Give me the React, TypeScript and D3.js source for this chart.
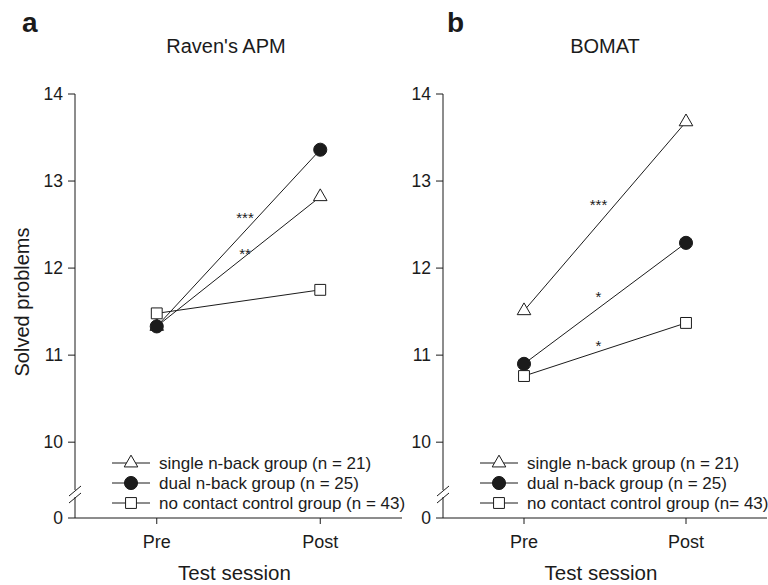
import * as d3 from "d3";

// sessions on the x axis
const sessions = ["Pre", "Post"];

// group values (mean solved problems)
const ravenSingle = [11.33, 12.82];
const ravenDual = [11.33, 13.36];
const ravenControl = [11.48, 11.75];

const bomatSingle = [11.51, 13.68];
const bomatDual = [10.9, 12.29];
const bomatControl = [10.76, 11.37];

const yTicks = [0, 10, 11, 12, 13, 14];

const legendA = [
  "single n-back group (n = 21)",
  "dual n-back group (n = 25)",
  "no contact control group (n = 43)",
];
const legendB = [
  "single n-back group (n = 21)",
  "dual n-back group (n = 25)",
  "no contact control group (n= 43)",
];

// significance marks: [label, session position, value]
const starsA: [string, number, number][] = [
  ["***", 0.54, 12.61],
  ["**", 0.54, 12.2],
];
const starsB: [string, number, number][] = [
  ["***", 0.46, 12.76],
  ["*", 0.46, 11.7],
  ["*", 0.46, 11.14],
];

const INK = "#1b1b1b";
const FONT = "'Liberation Sans', Arial, Helvetica, sans-serif";
const markerKinds = ["triangle", "circle", "square"];

const symbolFor = (kind: string) => {
  if (kind === "triangle") return d3.symbol(d3.symbolTriangle, 80)();
  if (kind === "circle") return d3.symbol(d3.symbolCircle, 135)();
  return d3.symbol(d3.symbolSquare, 118)();
};

const Marker = ({ kind, x, y }: { kind: string; x: number; y: number }) => (
  <path
    d={symbolFor(kind) || ""}
    transform={`translate(${x},${y})`}
    fill={kind === "circle" ? INK : "#fff"}
    stroke={INK}
    strokeWidth={1}
  />
);

type PanelProps = {
  left: number;
  right: number;
  letter: string;
  letterX: number;
  title: string;
  titleX: number;
  series: number[][];
  legend: string[];
  stars: [string, number, number][];
};

const Panel = ({ left, right, letter, letterX, title, titleX, series, legend, stars }: PanelProps) => {
  const x = d3.scaleLinear().domain([-0.5, 1.5]).range([left, right]);
  // broken axis: 0 sits just below the break
  const y = d3.scaleLinear().domain([0, 9.6, 14]).range([518, 477, 94]);
  const breakTop = 490;
  const breakBottom = 497;

  const line = d3
    .line<number>()
    .x((_, i) => x(i))
    .y((d) => y(d));

  const labelX = (x(0) + x(1)) / 2 - 4;

  return (
    <g fontFamily={FONT} fill={INK}>
      <text x={letterX} y={32} fontSize={28} fontWeight="bold">
        {letter}
      </text>
      <text x={titleX} y={53} fontSize={20} textAnchor="middle">
        {title}
      </text>

      {/* y axis with break */}
      <line x1={left} x2={left} y1={y(14)} y2={breakTop} stroke={INK} />
      <line x1={left} x2={left} y1={breakBottom} y2={y(0)} stroke={INK} />
      <line x1={left - 6} x2={left + 6} y1={breakTop + 6} y2={breakTop - 4} stroke={INK} />
      <line x1={left - 6} x2={left + 6} y1={breakBottom + 6} y2={breakBottom - 4} stroke={INK} />
      {yTicks.map((t) => (
        <g key={t}>
          <line x1={left - 7} x2={left} y1={y(t)} y2={y(t)} stroke={INK} />
          <text x={left - 12} y={y(t)} dy="0.36em" fontSize={17.5} textAnchor="end">
            {t}
          </text>
        </g>
      ))}

      {/* x axis */}
      <line x1={left} x2={right} y1={y(0)} y2={y(0)} stroke={INK} />
      {sessions.map((s, i) => (
        <g key={s}>
          <line x1={x(i)} x2={x(i)} y1={y(0)} y2={y(0) + 6} stroke={INK} />
          <text x={x(i)} y={548} fontSize={18} textAnchor="middle">
            {s}
          </text>
        </g>
      ))}
      <text x={labelX} y={580} fontSize={20.5} textAnchor="middle">
        Test session
      </text>

      {/* lines and markers */}
      {series.map((vals, k) => (
        <path key={"l" + k} d={line(vals) || ""} fill="none" stroke={INK} strokeWidth={1} />
      ))}
      {series.map((vals, k) =>
        vals.map((v, i) => <Marker key={`m${k}-${i}`} kind={markerKinds[k]} x={x(i)} y={y(v)} />)
      )}

      {stars.map(([label, pos, v], i) => (
        <text key={"s" + i} x={x(pos)} y={y(v)} dy="0.55em" fontSize={15} textAnchor="middle">
          {label}
        </text>
      ))}

      {/* legend */}
      {legend.map((label, k) => {
        const ly = 463 + k * 20;
        return (
          <g key={label}>
            <line x1={left + 37} x2={left + 75} y1={ly} y2={ly} stroke={INK} />
            <Marker kind={markerKinds[k]} x={left + 56} y={ly} />
            <text x={left + 84} y={ly} dy="0.36em" fontSize={17}>
              {label}
            </text>
          </g>
        );
      })}
    </g>
  );
};

export default function App() {
  return (
    <div style={{ position: "absolute", left: 0, top: 0 }}>
      <svg width={768} height={585} style={{ display: "block", background: "#fff" }}>
        <text
          transform="translate(29,302) rotate(-90)"
          fontFamily={FONT}
          fontSize={20}
          textAnchor="middle"
          fill={INK}
        >
          Solved problems
        </text>
        <Panel
          left={75}
          right={402}
          letter="a"
          letterX={22}
          title="Raven's APM"
          titleX={226}
          series={[ravenSingle, ravenDual, ravenControl]}
          legend={legendA}
          stars={starsA}
        />
        <Panel
          left={443}
          right={767}
          letter="b"
          letterX={447}
          title="BOMAT"
          titleX={605}
          series={[bomatSingle, bomatDual, bomatControl]}
          legend={legendB}
          stars={starsB}
        />
      </svg>
    </div>
  );
}
